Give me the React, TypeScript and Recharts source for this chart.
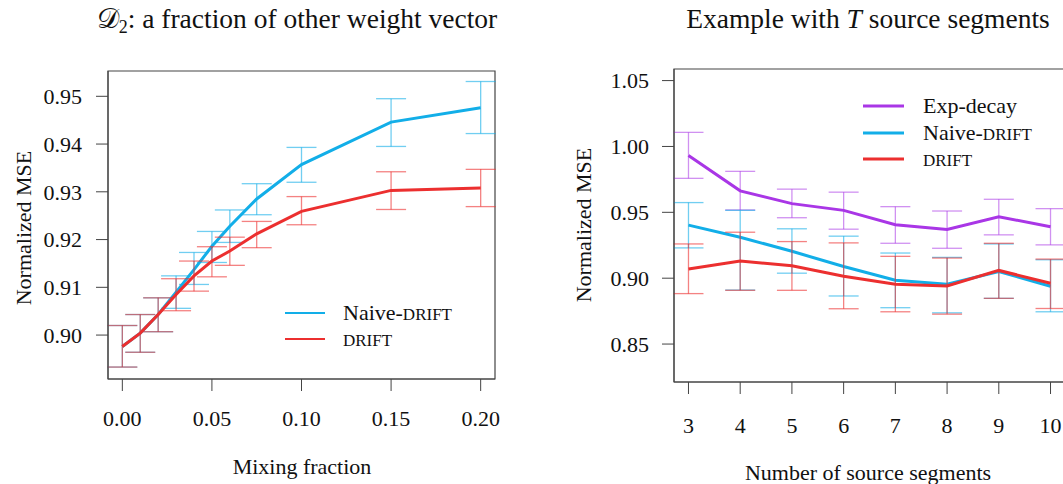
import React from "react";
import { ErrorBar, Line, LineChart, ReferenceArea, XAxis, YAxis } from "recharts";

// left panel: mixing fraction
const MIX = [0, 0.01, 0.02, 0.03, 0.04, 0.05, 0.06, 0.075, 0.1, 0.15, 0.2];
const MIX_DRIFT = [0.8976, 0.9004, 0.9043, 0.9085, 0.9124, 0.9155, 0.9176, 0.9212, 0.9259, 0.9303, 0.9308];
const MIX_DRIFT_LO = [0.8933, 0.8964, 0.9007, 0.9051, 0.9092, 0.9122, 0.9146, 0.9183, 0.9231, 0.9263, 0.9269];
const MIX_DRIFT_HI = [0.902, 0.9043, 0.9078, 0.9118, 0.9155, 0.9185, 0.9205, 0.9238, 0.929, 0.9342, 0.9347];
const MIX_NAIVE = [0.8976, 0.9004, 0.9043, 0.909, 0.9137, 0.9186, 0.9228, 0.9285, 0.9357, 0.9446, 0.9476];
const MIX_NAIVE_LO = [0.8933, 0.8964, 0.9007, 0.9056, 0.9106, 0.9152, 0.9194, 0.9252, 0.932, 0.9395, 0.9422];
const MIX_NAIVE_HI = [0.902, 0.9043, 0.9078, 0.9124, 0.9173, 0.9217, 0.9262, 0.9317, 0.9393, 0.9495, 0.9531];
const MIX_XTICKS = [0, 0.05, 0.1, 0.15, 0.2];
const MIX_YTICKS = [0.9, 0.91, 0.92, 0.93, 0.94, 0.95];

// right panel: number of source segments
const SEG = [3, 4, 5, 6, 7, 8, 9, 10];
const SEG_EXP = [0.9931, 0.9663, 0.9566, 0.9515, 0.9406, 0.937, 0.9467, 0.939];
const SEG_EXP_LO = [0.9758, 0.9518, 0.9459, 0.9372, 0.9265, 0.9227, 0.9329, 0.9253];
const SEG_EXP_HI = [1.0107, 0.9811, 0.9676, 0.9653, 0.9543, 0.951, 0.9599, 0.9528];
const SEG_NAIVE = [0.9403, 0.9311, 0.9204, 0.9089, 0.8985, 0.8954, 0.9051, 0.8939];
const SEG_NAIVE_LO = [0.923, 0.891, 0.9038, 0.8865, 0.8776, 0.8737, 0.8847, 0.8745];
const SEG_NAIVE_HI = [0.9574, 0.9515, 0.9375, 0.9319, 0.9191, 0.9158, 0.926, 0.914];
const SEG_DRIFT = [0.9069, 0.913, 0.9094, 0.9015, 0.8954, 0.8941, 0.9059, 0.8962];
const SEG_DRIFT_LO = [0.8883, 0.8908, 0.8908, 0.8768, 0.8745, 0.8727, 0.8847, 0.877];
const SEG_DRIFT_HI = [0.926, 0.9349, 0.9278, 0.9268, 0.9166, 0.9153, 0.9265, 0.9145];
const SEG_YTICKS = [0.85, 0.9, 0.95, 1.0, 1.05];

const RED = "#EC2F2F";
const BLUE = "#12AEE8";
const PURPLE = "#A936E6";
const AXIS = "#444";
const FONT = "'Liberation Serif', 'Times New Roman', serif";

const err = (v: number[], lo: number[], hi: number[], i: number) => [v[i] - lo[i], hi[i] - v[i]];

const mixData = MIX.map((x, i) => ({
  x,
  naive: MIX_NAIVE[i],
  naiveErr: err(MIX_NAIVE, MIX_NAIVE_LO, MIX_NAIVE_HI, i),
  drift: MIX_DRIFT[i],
  driftErr: err(MIX_DRIFT, MIX_DRIFT_LO, MIX_DRIFT_HI, i),
}));

const segData = SEG.map((x, i) => ({
  x,
  exp: SEG_EXP[i],
  expErr: err(SEG_EXP, SEG_EXP_LO, SEG_EXP_HI, i),
  naive: SEG_NAIVE[i],
  naiveErr: err(SEG_NAIVE, SEG_NAIVE_LO, SEG_NAIVE_HI, i),
  drift: SEG_DRIFT[i],
  driftErr: err(SEG_DRIFT, SEG_DRIFT_LO, SEG_DRIFT_HI, i),
}));

const tickStyle = { fontSize: 22, fill: "#111", fontFamily: FONT };

function MixChart() {
  const xd: [number, number] = [-0.008, 0.208];
  const yd: [number, number] = [0.8908, 0.9553];
  return (
    <LineChart width={530} height={484} data={mixData} margin={{ top: 71, right: 35, bottom: 65, left: 48 }}>
      <ReferenceArea x1={xd[0]} x2={xd[1]} y1={yd[0]} y2={yd[1]} fill="none" stroke={AXIS} strokeWidth={1.2} />
      <XAxis
        type="number"
        dataKey="x"
        domain={xd}
        allowDataOverflow
        ticks={MIX_XTICKS}
        tickFormatter={(v) => v.toFixed(2)}
        tick={tickStyle}
        tickSize={12}
        tickMargin={19}
        tickLine={{ stroke: AXIS }}
        axisLine={{ stroke: AXIS }}
        height={40}
      />
      <YAxis
        type="number"
        domain={yd}
        allowDataOverflow
        ticks={MIX_YTICKS}
        tickFormatter={(v) => v.toFixed(2)}
        tick={tickStyle}
        tickSize={12}
        tickMargin={14}
        tickLine={{ stroke: AXIS }}
        axisLine={{ stroke: AXIS }}
        width={60}
      />
      <Line dataKey="naive" stroke={BLUE} strokeWidth={3} dot={false} isAnimationActive={false}>
        <ErrorBar dataKey="naiveErr" direction="y" width={15} stroke={BLUE} strokeOpacity={0.6} strokeWidth={1.3} />
      </Line>
      <Line dataKey="drift" stroke={RED} strokeWidth={3} dot={false} isAnimationActive={false}>
        <ErrorBar dataKey="driftErr" direction="y" width={15} stroke={RED} strokeOpacity={0.6} strokeWidth={1.3} />
      </Line>
    </LineChart>
  );
}

function SegChart() {
  const xd: [number, number] = [2.72, 10.28];
  const yd: [number, number] = [0.8212, 1.0588];
  return (
    <LineChart width={560} height={484} data={segData} margin={{ top: 69, right: 55, bottom: 62, left: 54 }}>
      <ReferenceArea x1={xd[0]} x2={xd[1]} y1={yd[0]} y2={yd[1]} fill="none" stroke={AXIS} strokeWidth={1.2} />
      <XAxis
        type="number"
        dataKey="x"
        domain={xd}
        allowDataOverflow
        ticks={SEG}
        tick={tickStyle}
        tickSize={12}
        tickMargin={23}
        tickLine={{ stroke: AXIS }}
        axisLine={{ stroke: AXIS }}
        height={40}
      />
      <YAxis
        type="number"
        domain={yd}
        allowDataOverflow
        ticks={SEG_YTICKS}
        tickFormatter={(v) => v.toFixed(2)}
        tick={tickStyle}
        tickSize={12}
        tickMargin={13}
        tickLine={{ stroke: AXIS }}
        axisLine={{ stroke: AXIS }}
        width={60}
      />
      <Line dataKey="exp" stroke={PURPLE} strokeWidth={3} dot={false} isAnimationActive={false}>
        <ErrorBar dataKey="expErr" direction="y" width={15} stroke={PURPLE} strokeOpacity={0.55} strokeWidth={1.3} />
      </Line>
      <Line dataKey="naive" stroke={BLUE} strokeWidth={3} dot={false} isAnimationActive={false}>
        <ErrorBar dataKey="naiveErr" direction="y" width={15} stroke={BLUE} strokeOpacity={0.6} strokeWidth={1.3} />
      </Line>
      <Line dataKey="drift" stroke={RED} strokeWidth={3} dot={false} isAnimationActive={false}>
        <ErrorBar dataKey="driftErr" direction="y" width={15} stroke={RED} strokeOpacity={0.6} strokeWidth={1.3} />
      </Line>
    </LineChart>
  );
}

function Drift() {
  return <tspan fontSize={17}>DRIFT</tspan>;
}

function Overlay() {
  const t = { fontFamily: FONT, fill: "#111" };
  return (
    <svg width={1063} height={484} style={{ position: "absolute", left: 0, top: 0, pointerEvents: "none" }}>
      <text x={297} y={28} textAnchor="middle" fontSize={27.5} {...t}>
        𝒟<tspan fontSize={18} dy={5}>2</tspan>
        <tspan dy={-5}>: a fraction of other weight vector</tspan>
      </text>
      <text x={868} y={28} textAnchor="middle" fontSize={27.5} {...t}>
        Example with <tspan fontStyle="italic">T</tspan> source segments
      </text>

      <text x={31} y={228} textAnchor="middle" fontSize={22} transform="rotate(-90 31 228)" {...t}>
        Normalized MSE
      </text>
      <text x={591} y={225} textAnchor="middle" fontSize={22} transform="rotate(-90 591 225)" {...t}>
        Normalized MSE
      </text>
      <text x={302} y={474} textAnchor="middle" fontSize={22} {...t}>
        Mixing fraction
      </text>
      <text x={868} y={480} textAnchor="middle" fontSize={22} {...t}>
        Number of source segments
      </text>

      {/* left legend */}
      <line x1={285} x2={325} y1={313} y2={313} stroke={BLUE} strokeWidth={2.2} />
      <line x1={285} x2={325} y1={339} y2={339} stroke={RED} strokeWidth={2.2} />
      <text x={343} y={320} fontSize={22} {...t}>
        Naive-<Drift />
      </text>
      <text x={343} y={346} fontSize={22} {...t}>
        <Drift />
      </text>

      {/* right legend */}
      <line x1={863} x2={904} y1={106} y2={106} stroke={PURPLE} strokeWidth={3} />
      <line x1={863} x2={904} y1={133} y2={133} stroke={BLUE} strokeWidth={3} />
      <line x1={863} x2={904} y1={159} y2={159} stroke={RED} strokeWidth={3} />
      <text x={923} y={113} fontSize={22} {...t}>
        Exp-decay
      </text>
      <text x={923} y={140} fontSize={22} {...t}>
        Naive-<Drift />
      </text>
      <text x={923} y={166} fontSize={22} {...t}>
        <Drift />
      </text>
    </svg>
  );
}

export default function App() {
  return (
    <div
      style={{
        position: "absolute",
        left: 0,
        top: 0,
        width: 1063,
        height: 484,
        overflow: "hidden",
        background: "#fff",
      }}
    >
      <div style={{ position: "absolute", left: 0, top: 0 }}>
        <MixChart />
      </div>
      <div style={{ position: "absolute", left: 560, top: 0 }}>
        <SegChart />
      </div>
      <Overlay />
    </div>
  );
}
